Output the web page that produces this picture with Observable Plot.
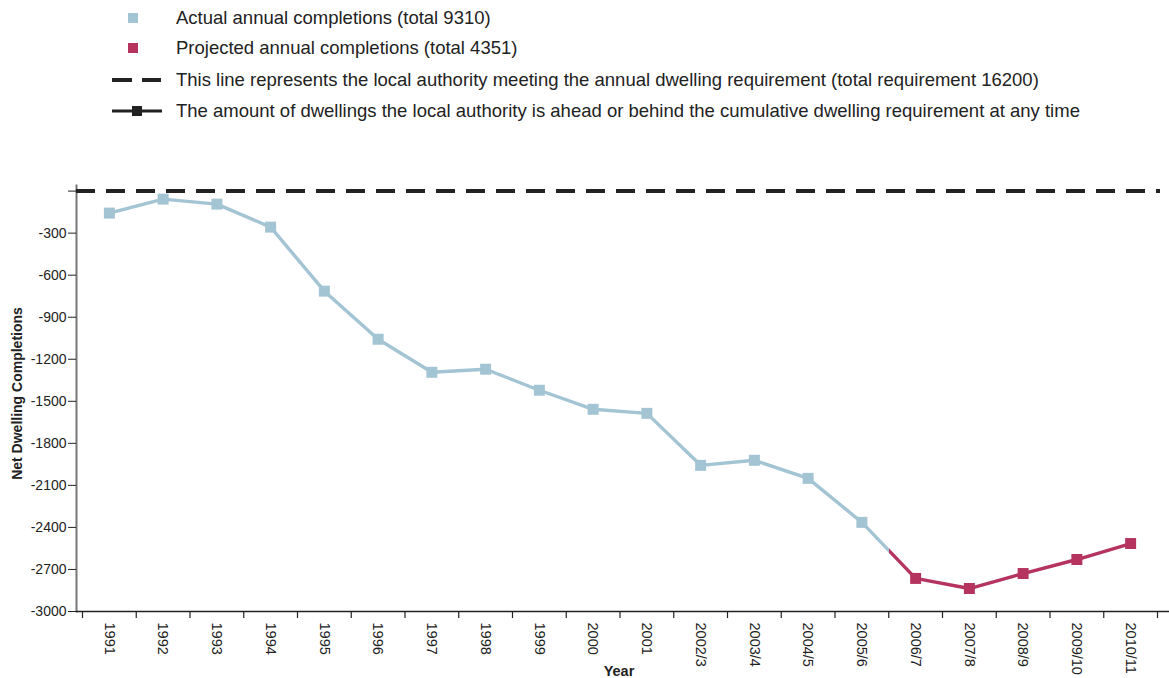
<!DOCTYPE html>
<html>
<head>
<meta charset="utf-8">
<script src="https://cdn.jsdelivr.net/npm/d3@7"></script>
<script src="https://cdn.jsdelivr.net/npm/@observablehq/plot@0.6"></script>
<style>
  body { margin: 0; background: #fff; font-family: "Liberation Sans", Arial, sans-serif; }
  #legend { position: relative; width: 1169px; height: 140px; }
  .row { position: absolute; left: 0; width: 1169px; height: 24px; }
  .row svg { position: absolute; left: 100px; top: 0; }
  .row span { position: absolute; left: 176px; top: 0; font-size: 18.5px; line-height: 24px; color: #222; white-space: nowrap; }
  #chart svg { display: block; }
</style>
</head>
<body>
<div id="legend"></div>
<div id="chart"></div>
<script>
// ---- data ----
const years = ["1991","1992","1993","1994","1995","1996","1997","1998","1999","2000",
  "2001","2002/3","2003/4","2004/5","2005/6","2006/7","2007/8","2008/9","2009/10","2010/11"];
const actualValues = [-157, -57, -93, -257, -714, -1057, -1293, -1271, -1421, -1557,
  -1586, -1957, -1921, -2050, -2364];
const projectedValues = [-2764, -2836, -2729, -2629, -2515];
const yTicks = [0, -300, -600, -900, -1200, -1500, -1800, -2100, -2400, -2700, -3000];
const requirementLine = [0];
const legendLabels = [
  "Actual annual completions (total 9310)",
  "Projected annual completions (total 4351)",
  "This line represents the local authority meeting the annual dwelling requirement (total requirement 16200)",
  "The amount of dwellings the local authority is ahead or behind the cumulative dwelling requirement at any time"
];

const BLUE = "#a3c4d3";
const RED = "#b5335f";
const DARK = "#222";

// ---- legend ----
const legendSwatches = [
  `<svg width="70" height="24"><rect x="28" y="7" width="10" height="10" fill="${BLUE}"/></svg>`,
  `<svg width="70" height="24"><rect x="28" y="7" width="10" height="10" fill="${RED}"/></svg>`,
  `<svg width="70" height="24"><line x1="12" x2="61" y1="12" y2="12" stroke="${DARK}" stroke-width="4" stroke-dasharray="20,10"/></svg>`,
  `<svg width="70" height="24"><line x1="12" x2="62" y1="12" y2="12" stroke="${DARK}" stroke-width="3"/><rect x="32" y="7" width="10" height="10" fill="${DARK}"/></svg>`
];
const rowCenters = [18, 48, 80, 111];
const legend = document.getElementById("legend");
legendLabels.forEach((lab, i) => {
  const row = document.createElement("div");
  row.className = "row";
  row.style.top = (rowCenters[i] - 12) + "px";
  row.innerHTML = legendSwatches[i];
  const span = document.createElement("span");
  span.textContent = lab;
  row.appendChild(span);
  legend.appendChild(row);
});

// ---- chart ----
const actual = actualValues.map((v, i) => ({year: years[i], value: v}));
const projected = projectedValues.map((v, i) => ({year: years[actualValues.length + i], value: v}));
const bridge = [{
  x1: actual[actual.length - 1].year, y1: actual[actual.length - 1].value,
  x2: projected[0].year, y2: projected[0].value
}];
const rangeLeft = 82, rangeRight = 1157;
const step = (rangeRight - rangeLeft) / years.length;

const svg = Plot.plot({
  width: 1169,
  height: 538,
  marginTop: 45,
  marginBottom: 67,
  marginLeft: 76,
  marginRight: 0,
  style: {fontFamily: "'Liberation Sans', Arial, sans-serif", fontSize: "14px", color: DARK, background: "#fff"},
  x: {type: "band", domain: years, range: [rangeLeft, rangeRight], padding: 0, round: false},
  y: {domain: [-3000, 40]},
  marks: [
    Plot.frame({anchor: "left", stroke: "#777", strokeWidth: 2}),
    Plot.ruleY([-3000], {stroke: DARK, strokeWidth: 1.5}),
    Plot.ruleX(years, {x: d => d, y1: -3000, y2: -3000, insetBottom: -7, dx: -step / 2, stroke: DARK, strokeWidth: 1.2}),
    Plot.ruleX([years[years.length - 1]], {x: d => d, y1: -3000, y2: -3000, insetBottom: -7, dx: step / 2, stroke: DARK, strokeWidth: 1.2}),
    Plot.axisX({tickSize: 0, tickRotate: 90, tickPadding: 11, fontSize: 14.5, label: null, fill: DARK}),
    Plot.axisY({ticks: yTicks, tickSize: 8, tickPadding: 2, tickFormat: d => d === 0 ? "" : String(d), label: null, stroke: DARK, fill: DARK, fontSize: 14}),
    Plot.text(["Net Dwelling Completions"], {frameAnchor: "left", textAnchor: "middle", rotate: -90, dx: -59, dy: -5, fontWeight: "bold", fontSize: 14, fill: DARK}),
    Plot.text(["Year"], {frameAnchor: "bottom", dy: 64, dx: -4, fontWeight: "bold", fontSize: 14.5, fill: DARK}),
    Plot.ruleY(requirementLine, {stroke: DARK, strokeWidth: 4, strokeDasharray: "19,11", insetRight: 9}),
    Plot.line(actual, {x: "year", y: "value", stroke: BLUE, strokeWidth: 3.4}),
    Plot.line(projected, {x: "year", y: "value", stroke: RED, strokeWidth: 3.4}),
    Plot.link(bridge, {x1: "x1", y1: "y1", x2: "x2", y2: "y2", stroke: "url(#bridgeGrad)", strokeWidth: 3.4}),
    Plot.dot(actual, {x: "year", y: "value", symbol: "square", r: 6.2, fill: BLUE, stroke: null}),
    Plot.dot(projected, {x: "year", y: "value", symbol: "square", r: 6.2, fill: RED, stroke: null})
  ]
});
d3.select(svg).insert("defs", ":first-child").html(
  `<linearGradient id="bridgeGrad" x1="0" y1="0" x2="1" y2="0">
     <stop offset="50%" stop-color="${BLUE}"/><stop offset="50%" stop-color="${RED}"/>
   </linearGradient>`);
document.getElementById("chart").appendChild(svg);
</script>
</body>
</html>
